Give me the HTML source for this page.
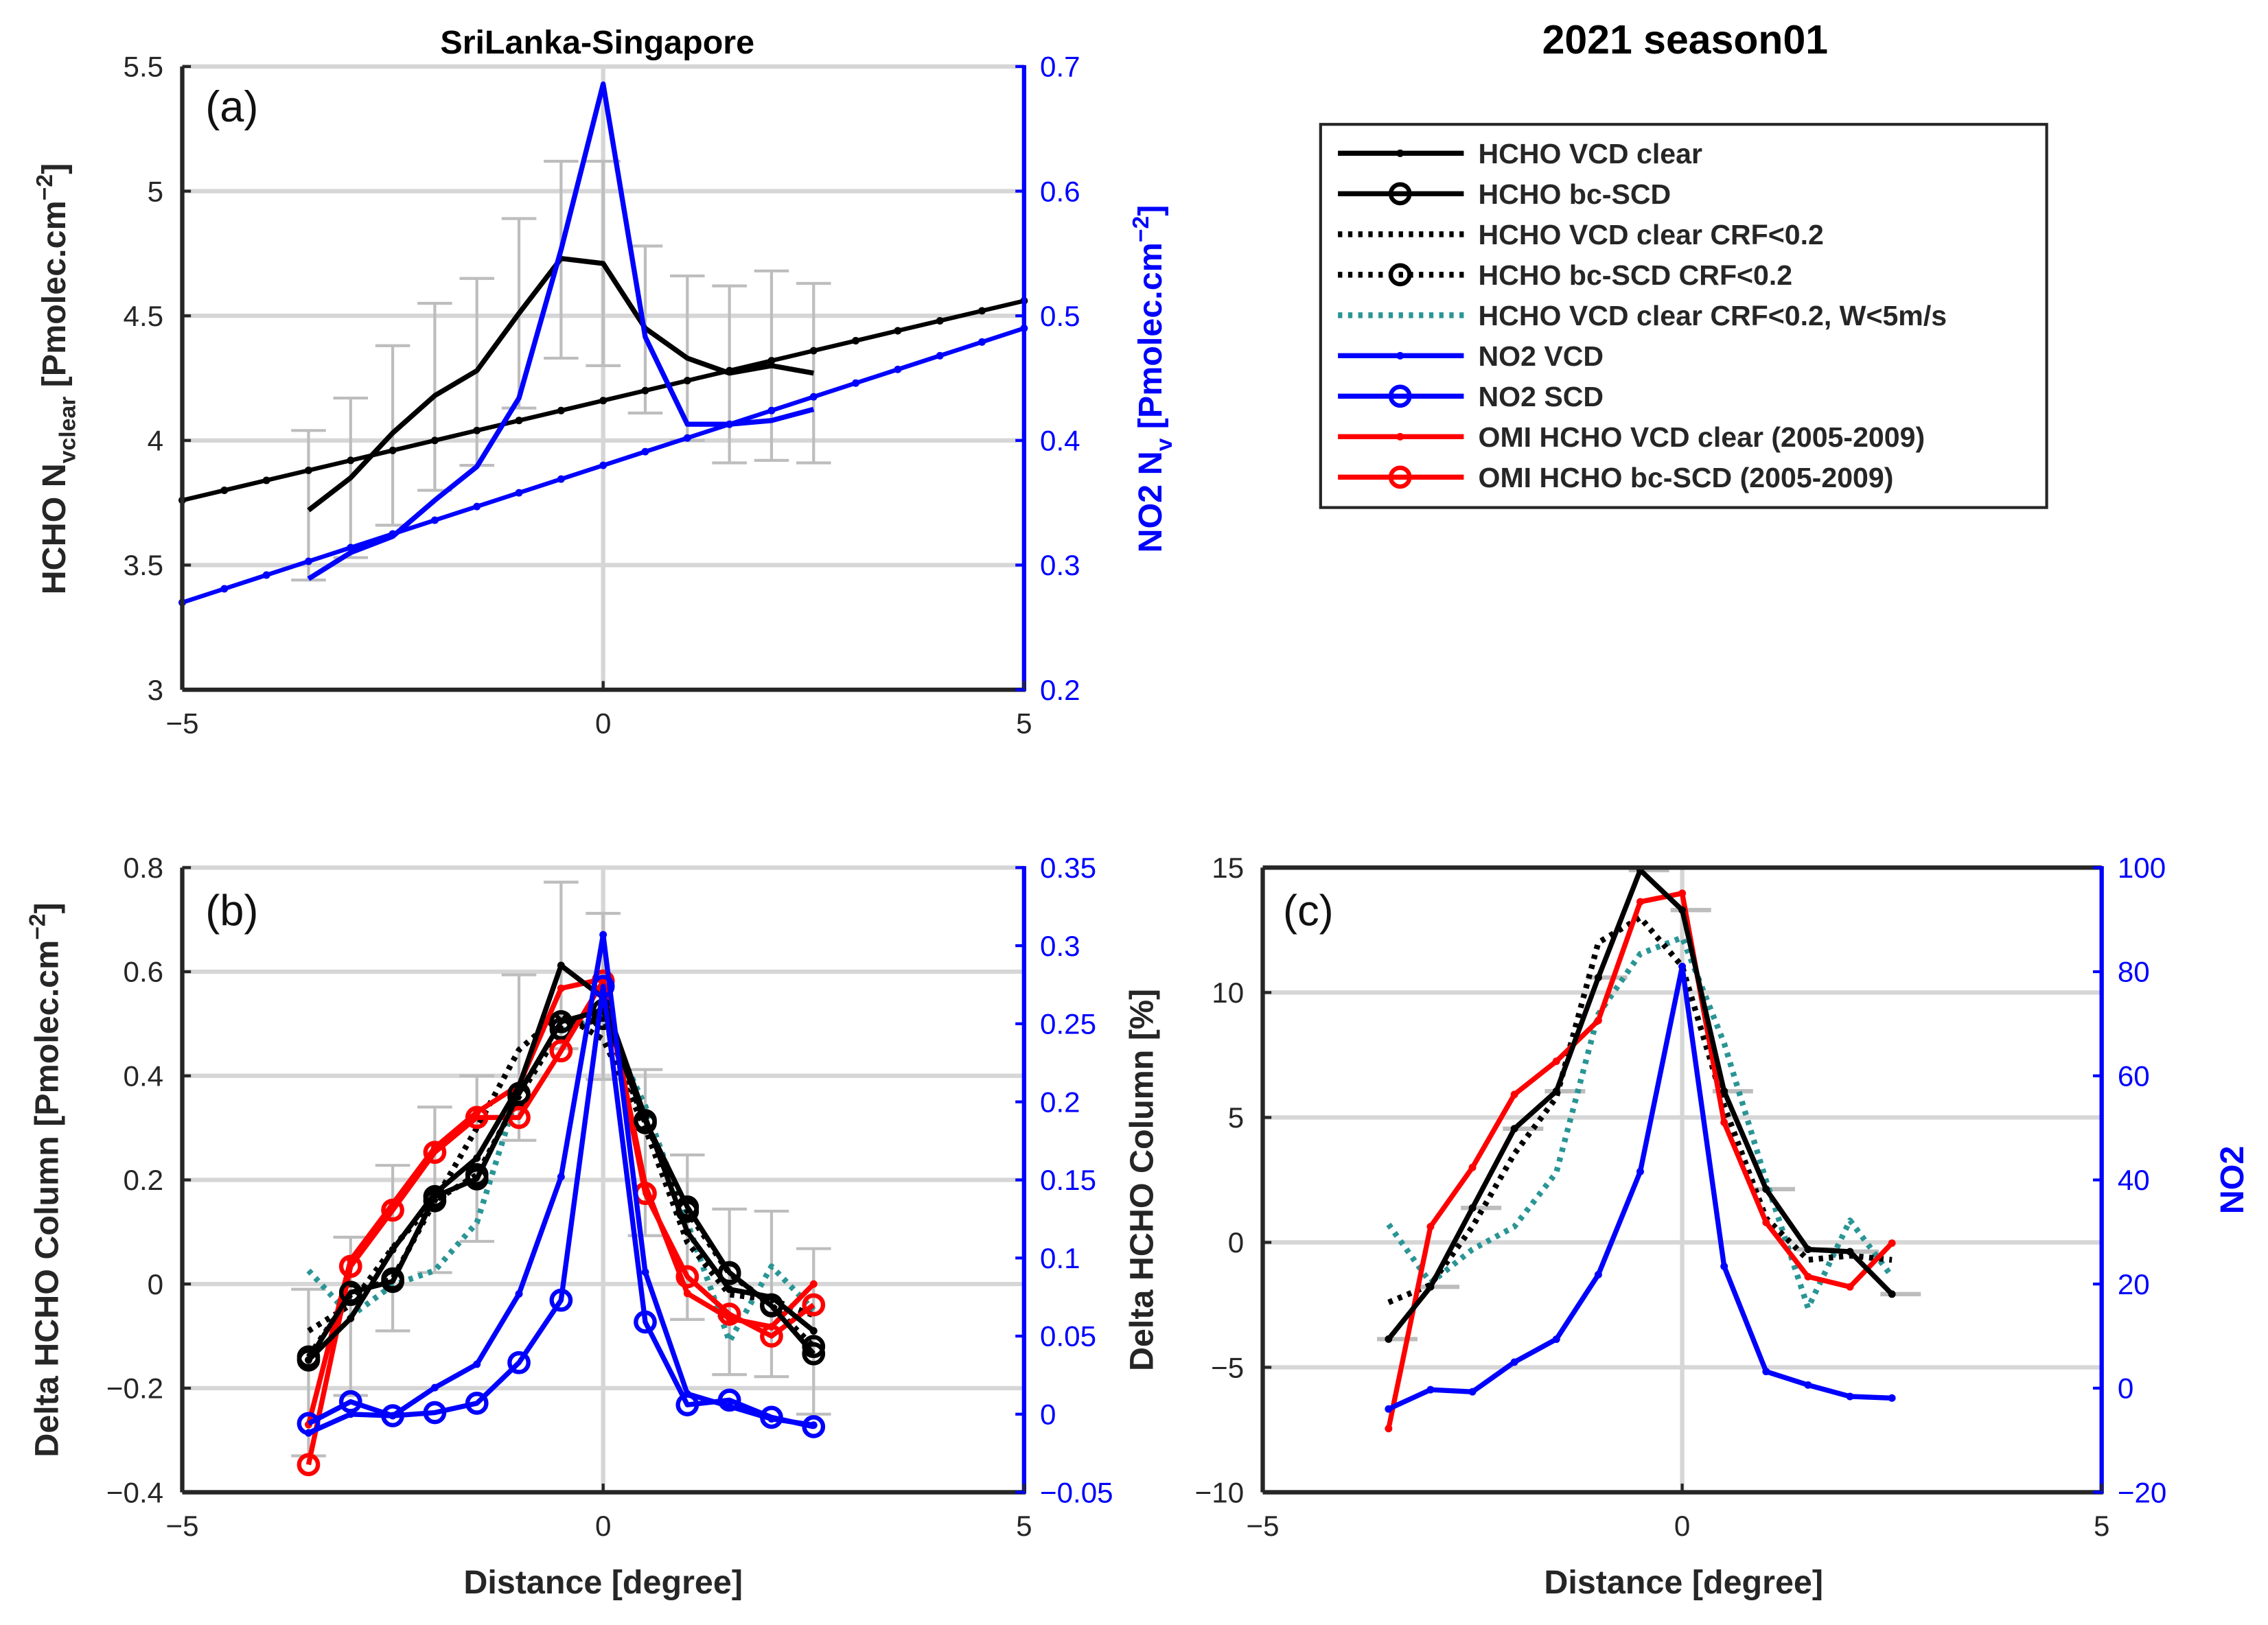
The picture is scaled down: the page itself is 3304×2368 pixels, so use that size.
<!DOCTYPE html>
<html><head><meta charset="utf-8"><style>
html,body{margin:0;padding:0;background:#fff}
svg{display:block}
text{font-family:"Liberation Sans",sans-serif}
</style></head><body>
<svg id="fig" xmlns="http://www.w3.org/2000/svg" width="3304" height="2368" viewBox="0 0 1568 1123.8">
<rect width="1568" height="1124" fill="#fff"/>
<text x="413" y="37" font-size="23" font-weight="bold" text-anchor="middle">SriLanka-Singapore</text>
<text x="1165" y="37" font-size="28" font-weight="bold" text-anchor="middle">2021 season01</text>
<g id="legend"></g>
<g id="pa"></g>
<g id="pb"></g>
<g id="pc"></g>
<text x="1095" y="26" font-size="1" fill="#fff"> </text>
</svg>
<script>
// ---------- data ----------
const xs = [-3.5,-3,-2.5,-2,-1.5,-1,-0.5,0,0.5,1,1.5,2,2.5];
const trendX = [-5,-4.5,-4,-3.5,-3,-2.5,-2,-1.5,-1,-0.5,0,0.5,1,1.5,2,2.5,3,3.5,4,4.5,5];
// panel a
const aHcho = [3.72,3.85,4.03,4.18,4.28,4.51,4.73,4.71,4.45,4.33,4.27,4.30,4.27];
const aHchoLo = [3.44,3.53,3.66,3.80,3.90,4.13,4.33,4.30,4.11,4.00,3.91,3.92,3.91];
const aHchoHi = [4.04,4.17,4.38,4.55,4.65,4.89,5.12,5.12,4.78,4.66,4.62,4.68,4.63];
const aNo2 = [0.289,0.310,0.323,0.352,0.379,0.434,0.553,0.686,0.483,0.413,0.413,0.416,0.425];
const aHchoTrend = [3.76,3.80,3.84,3.88,3.92,3.96,4.00,4.04,4.08,4.12,4.16,4.20,4.24,4.28,4.32,4.36,4.40,4.44,4.48,4.52,4.56];
const aNo2Trend = [0.270,0.281,0.292,0.303,0.314,0.325,0.336,0.347,0.358,0.369,0.380,0.391,0.402,0.413,0.424,0.435,0.446,0.457,0.468,0.479,0.490];
// panel b
const bVcd = [-0.146,-0.066,0.066,0.174,0.242,0.38,0.612,0.55,0.32,0.10,-0.01,-0.025,-0.09];
const bScd = [-0.146,-0.016,0.005,0.168,0.202,0.366,0.504,0.526,0.314,0.148,0.022,-0.042,-0.134];
const bVcdCrf = [-0.09,-0.04,0.07,0.16,0.30,0.45,0.52,0.47,0.30,0.08,-0.02,-0.03,-0.06];
const bScdCrf = [-0.14,-0.02,0.01,0.16,0.21,0.36,0.49,0.51,0.31,0.14,0.02,-0.04,-0.12];
const bTeal = [0.026,-0.062,-0.002,0.026,0.118,0.374,0.486,0.514,0.342,0.118,-0.11,0.034,-0.05];
const bOmiVcd = [-0.27,0.046,0.154,0.262,0.33,0.382,0.568,0.586,0.19,-0.018,-0.066,-0.082,0.0];
const bOmiScd = [-0.347,0.034,0.142,0.253,0.32,0.32,0.448,0.582,0.174,0.014,-0.058,-0.10,-0.04];
const bNo2Vcd = [-0.012,0.0,-0.001,0.017,0.032,0.077,0.152,0.307,0.091,0.013,0.005,-0.003,-0.007];
const bNo2Scd = [-0.006,0.008,-0.001,0.001,0.007,0.033,0.073,0.274,0.059,0.006,0.009,-0.002,-0.008];
const bErrLo = [-0.33,-0.214,-0.09,0.022,0.082,0.276,0.452,0.393,0.093,-0.068,-0.174,-0.178,-0.25];
const bErrHi = [-0.01,0.09,0.228,0.34,0.40,0.594,0.772,0.712,0.412,0.248,0.144,0.14,0.068];
// panel c
const cVcd = [-3.87,-1.78,1.38,4.55,6.05,10.6,14.9,13.3,6.05,2.13,-0.28,-0.37,-2.07];
const cVcdCrf = [-2.4,-1.7,0.63,3.55,5.8,12.0,13.0,11.05,5.47,0.97,-0.7,-0.53,-0.7];
const cTeal = [0.72,-1.62,-0.28,0.63,2.8,9.13,11.55,12.2,7.97,2.47,-2.62,0.88,-1.37];
const cOmi = [-7.45,0.63,3.0,5.92,7.25,8.88,13.63,13.97,4.8,0.8,-1.37,-1.78,-0.03];
const cNo2 = [-4,-0.3,-0.7,5.0,9.4,21.8,41.6,81,23.4,3.2,0.6,-1.6,-1.9];
// ticks
const xTicks = [-5,0,5];
const aLeftTicks = [3,3.5,4,4.5,5,5.5];
const aRightTicks = [0.2,0.3,0.4,0.5,0.6,0.7];
const bLeftTicks = [-0.4,-0.2,0,0.2,0.4,0.6,0.8];
const bRightTicks = [-0.05,0,0.05,0.1,0.15,0.2,0.25,0.3,0.35];
const cLeftTicks = [-10,-5,0,5,10,15];
const cRightTicks = [-20,0,20,40,60,80,100];

const NS = "http://www.w3.org/2000/svg";
const BLUE = "#0000ff", RED = "#ff0000", TEAL = "#2a9595", GRAY = "#bdbdbd";
function mk(tag, attrs, parent){
  const e = document.createElementNS(NS, tag);
  for (const k in attrs) e.setAttribute(k, attrs[k]);
  parent.appendChild(e);
  return e;
}
function lin(d0,d1,r0,r1){ return v => r0 + (v-d0)*(r1-r0)/(d1-d0); }

function makeAxes(g, box, xd, yl, yr){
  return {
    sx: lin(xd[0],xd[1],box.l,box.r),
    syl: lin(yl[0],yl[1],box.b,box.t),
    syr: lin(yr[0],yr[1],box.b,box.t)
  };
}
function grid(g, box, ax, lticks){
  for (const t of lticks){
    const y = ax.syl(t);
    const l = mk('line',{x1:box.l,x2:box.r,y1:y,y2:y,stroke:"#d6d6d6","stroke-width":3},g);
    
    
  }
  const x0 = ax.sx(0);
  const v = mk('line',{x1:x0,x2:x0,y1:box.t,y2:box.b,stroke:"#d6d6d6","stroke-width":3},g);
  
  
}
function series(g, X, Y, sx, sy, color, opt, name){
  const pts = X.map((x,i)=>sx(x).toFixed(2)+","+sy(Y[i]).toFixed(2)).join(" ");
  const s = mk('g',{},g);
  
  
  const pl = mk('polyline',{points:pts,fill:"none",stroke:color,"stroke-width":opt.w||3.5,"stroke-linejoin":"round"},s);
  if (opt.dash) pl.setAttribute('stroke-dasharray', opt.dash);
  X.forEach((x,i)=>{
    if (opt.marker==='o'){
      const c = mk('circle',{cx:sx(x),cy:sy(Y[i]),r:6.5,fill:"none",stroke:color,"stroke-width":3},s);
      
      
    } else if (opt.marker==='.'){
      const c = mk('circle',{cx:sx(x),cy:sy(Y[i]),r:2.6,fill:color},s);
      
      
    }
  });
}
function errbars(g, X, lo, hi, sx, sy, name){
  X.forEach((x,i)=>{
    const px = sx(x), y1 = sy(lo[i]), y2 = sy(hi[i]);
    const e = mk('path',{d:`M${px},${y1}V${y2}M${px-12},${y1}H${px+12}M${px-12},${y2}H${px+12}`,stroke:GRAY,"stroke-width":2,fill:"none"},g);
    
    
  });
}
function axesDraw(g, box, ax, lt, rt, lfmt, rfmt, topBorder){
  const a = mk('g',{},g);
  
  
  const bl = mk('line',{x1:box.l,x2:box.r+1,y1:box.b,y2:box.b,stroke:"#262626","stroke-width":3},a);
  
  
  const ll = mk('line',{x1:box.l,x2:box.l,y1:box.t,y2:box.b,stroke:"#262626","stroke-width":3},a);
  
  
  if (topBorder){
    const tl = mk('line',{x1:box.l,x2:box.r,y1:box.t,y2:box.t,stroke:"#262626","stroke-width":3},a);
    
    
  }
  const rl = mk('line',{x1:box.r,x2:box.r,y1:box.t-1,y2:box.b+1,stroke:BLUE,"stroke-width":3},a);
  
  
  for (const t of xTicks){
    const x = ax.sx(t);
    mk('line',{x1:x,x2:x,y1:box.b,y2:box.b-6,stroke:"#262626","stroke-width":2},a);
    const tx = mk('text',{x:x,y:box.b+30,"font-size":20,"text-anchor":"middle",fill:"#262626"},a);
    tx.textContent = t<0 ? "\u2212"+Math.abs(t) : String(t);
    
    
  }
  for (const t of lt){
    const y = ax.syl(t);
    mk('line',{x1:box.l,x2:box.l+6,y1:y,y2:y,stroke:"#262626","stroke-width":2},a);
    const tx = mk('text',{x:box.l-13,y:y+7,"font-size":20,"text-anchor":"end",fill:"#262626"},a);
    tx.textContent = lfmt(t);
    
    
  }
  for (const t of rt){
    const y = ax.syr(t);
    mk('line',{x1:box.r,x2:box.r-6,y1:y,y2:y,stroke:BLUE,"stroke-width":2},a);
    const tx = mk('text',{x:box.r+11,y:y+7,"font-size":20,"text-anchor":"start",fill:BLUE},a);
    tx.textContent = rfmt(t);
    
    
  }
}
function fmt(t){ const s = String(t).replace(/^0\./,"0.").replace(/^-0\./,"-0."); return s.replace("-","\u2212"); }
function fmtNo0(t){ let s = String(t); if (s.startsWith("-0.")) s = "-"+s.slice(2); return s.replace("-","\u2212"); }
function label(g, x, y, rot, html, color, name, size){
  const t = mk('text',{x:x,y:y,"font-size":size||23,"font-weight":"bold","text-anchor":"middle",fill:color||"#262626",transform:rot?`rotate(-90 ${x} ${y})`:""},g);
  t.innerHTML = html;
  
  
  return t;
}
function panelLetter(g,x,y,s){
  const t = mk('text',{x:x,y:y,"font-size":30,fill:"#111"},g);
  t.textContent = s;
  
  
}

// ---------- panel a ----------
(function(){
  const g = document.getElementById('pa');
  const box = {l:126,r:708,t:46,b:477};
  const ax = makeAxes(g, box, [-5,5], [3,5.5], [0.2,0.7]);
  grid(g, box, ax, aLeftTicks);
  errbars(g, xs, aHchoLo, aHchoHi, ax.sx, ax.syl, 'hcho-error-bar');
  series(g, trendX, aHchoTrend, ax.sx, ax.syl, "#000", {w:3,marker:'.'}, 'hcho-trend-line');
  series(g, trendX, aNo2Trend, ax.sx, ax.syr, BLUE, {w:3,marker:'.'}, 'no2-trend-line');
  series(g, xs, aHcho, ax.sx, ax.syl, "#000", {w:3.5}, 'hcho-vcd-clear');
  series(g, xs, aNo2, ax.sx, ax.syr, BLUE, {w:3.5}, 'no2-vcd');
  axesDraw(g, box, ax, aLeftTicks, aRightTicks, fmt, fmt, false);
  panelLetter(g,142,84,"(a)");
  label(g, 45, 262, true, 'HCHO N<tspan font-size="16" dy="7">vclear</tspan><tspan dy="-7"> [Pmolec.cm</tspan><tspan font-size="16" dy="-9">−2</tspan><tspan dy="9">]</tspan>', "#262626", 'y-axis-title-left');
  label(g, 803, 262, true, 'NO2 N<tspan font-size="16" dy="7">v</tspan><tspan dy="-7"> [Pmolec.cm</tspan><tspan font-size="16" dy="-9">−2</tspan><tspan dy="9">]</tspan>', BLUE, 'y-axis-title-right');
})();

// ---------- panel b ----------
(function(){
  const g = document.getElementById('pb');
  const box = {l:126,r:708,t:600,b:1032};
  const ax = makeAxes(g, box, [-5,5], [-0.4,0.8], [-0.05,0.35]);
  grid(g, box, ax, bLeftTicks);
  errbars(g, xs, bErrLo, bErrHi, ax.sx, ax.syl, 'hcho-error-bar');
  series(g, xs, bTeal, ax.sx, ax.syl, TEAL, {w:4,dash:"3,4"}, 'hcho-vcd-crf-wind');
  series(g, xs, bVcdCrf, ax.sx, ax.syl, "#000", {w:4,dash:"3,4"}, 'hcho-vcd-crf');
  series(g, xs, bScdCrf, ax.sx, ax.syl, "#000", {w:4,dash:"3,4",marker:'o'}, 'hcho-bcscd-crf');
  series(g, xs, bOmiScd, ax.sx, ax.syl, RED, {w:3.5,marker:'o'}, 'omi-hcho-bcscd');
  series(g, xs, bOmiVcd, ax.sx, ax.syl, RED, {w:3.5,marker:'.'}, 'omi-hcho-vcd');
  series(g, xs, bVcd, ax.sx, ax.syl, "#000", {w:3.5,marker:'.'}, 'hcho-vcd-clear');
  series(g, xs, bScd, ax.sx, ax.syl, "#000", {w:3.5,marker:'o'}, 'hcho-bcscd');
  series(g, xs, bNo2Vcd, ax.sx, ax.syr, BLUE, {w:3.5,marker:'.'}, 'no2-vcd');
  series(g, xs, bNo2Scd, ax.sx, ax.syr, BLUE, {w:3.5,marker:'o'}, 'no2-scd');
  axesDraw(g, box, ax, bLeftTicks, bRightTicks, fmt, fmt, false);
  panelLetter(g,142,640,"(b)");
  label(g, 40, 816, true, 'Delta HCHO Column [Pmolec.cm<tspan font-size="16" dy="-9">−2</tspan><tspan dy="9">]</tspan>', "#262626", 'y-axis-title-left');
  label(g, 417, 1102, false, 'Distance [degree]', "#262626", 'x-axis-title');
})();

// ---------- panel c ----------
(function(){
  const g = document.getElementById('pc');
  const box = {l:873,r:1453,t:600,b:1032};
  const ax = makeAxes(g, box, [-5,5], [-10,15], [-20,100]);
  grid(g, box, ax, cLeftTicks);
  cVcd.forEach((v,i)=>{
    const px = ax.sx(xs[i]) + 6, py = ax.syl(v);
    const e = mk('line',{x1:px-14,x2:px+14,y1:py,y2:py,stroke:GRAY,"stroke-width":3},g);
    
    
  });
  series(g, xs, cTeal, ax.sx, ax.syl, TEAL, {w:4,dash:"3,4"}, 'hcho-vcd-crf-wind');
  series(g, xs, cVcdCrf, ax.sx, ax.syl, "#000", {w:4,dash:"3,4"}, 'hcho-vcd-crf');
  series(g, xs, cOmi, ax.sx, ax.syl, RED, {w:3.5,marker:'.'}, 'omi-hcho-vcd');
  series(g, xs, cVcd, ax.sx, ax.syl, "#000", {w:3.5,marker:'.'}, 'hcho-vcd-clear');
  series(g, xs, cNo2, ax.sx, ax.syr, BLUE, {w:3.5,marker:'.'}, 'no2-vcd');
  axesDraw(g, box, ax, cLeftTicks, cRightTicks, fmt, fmt, true);
  panelLetter(g,887,640,"(c)");
  label(g, 797, 816, true, 'Delta HCHO Column [%]', "#262626", 'y-axis-title-left');
  label(g, 1551, 816, true, 'NO2', BLUE, 'y-axis-title-right');
  label(g, 1164, 1102, false, 'Distance [degree]', "#262626", 'x-axis-title');
})();

// ---------- legend ----------
const legendLabels = ["HCHO VCD clear","HCHO bc-SCD","HCHO VCD clear CRF<0.2","HCHO bc-SCD CRF<0.2","HCHO VCD clear CRF<0.2, W<5m/s","NO2 VCD","NO2 SCD","OMI HCHO VCD clear (2005-2009)","OMI HCHO bc-SCD (2005-2009)"];
const legendColors = ["#000","#000","#000","#000",TEAL,BLUE,BLUE,RED,RED];
const legendDash = ["","","3,4","3,4","3,4","","","",""];
const legendMarker = [".","o","","o","",".","o",".","o"];
(function(){
  const g = document.getElementById('legend');
  const b = mk('rect',{x:913,y:86,width:502,height:265,fill:"#fff",stroke:"#262626","stroke-width":2},g);
  
  
  legendLabels.forEach((lab,i)=>{
    const y = 106 + i*28;
    const e = mk('g',{},g);
    
    
    const l = mk('line',{x1:925,x2:1012,y1:y,y2:y,stroke:legendColors[i],"stroke-width":legendDash[i]?4:3.5},e);
    if (legendDash[i]) l.setAttribute('stroke-dasharray',legendDash[i]);
    if (legendMarker[i]==='o') mk('circle',{cx:968,cy:y,r:6.5,fill:"none",stroke:legendColors[i],"stroke-width":3},e);
    if (legendMarker[i]==='.') mk('circle',{cx:968,cy:y,r:2.6,fill:legendColors[i]},e);
    const t = mk('text',{x:1022,y:y+7,"font-size":19.5,"font-weight":"bold",fill:"#262626"},e);
    t.textContent = lab;
    
    
  });
})();
</script>
</body></html>
